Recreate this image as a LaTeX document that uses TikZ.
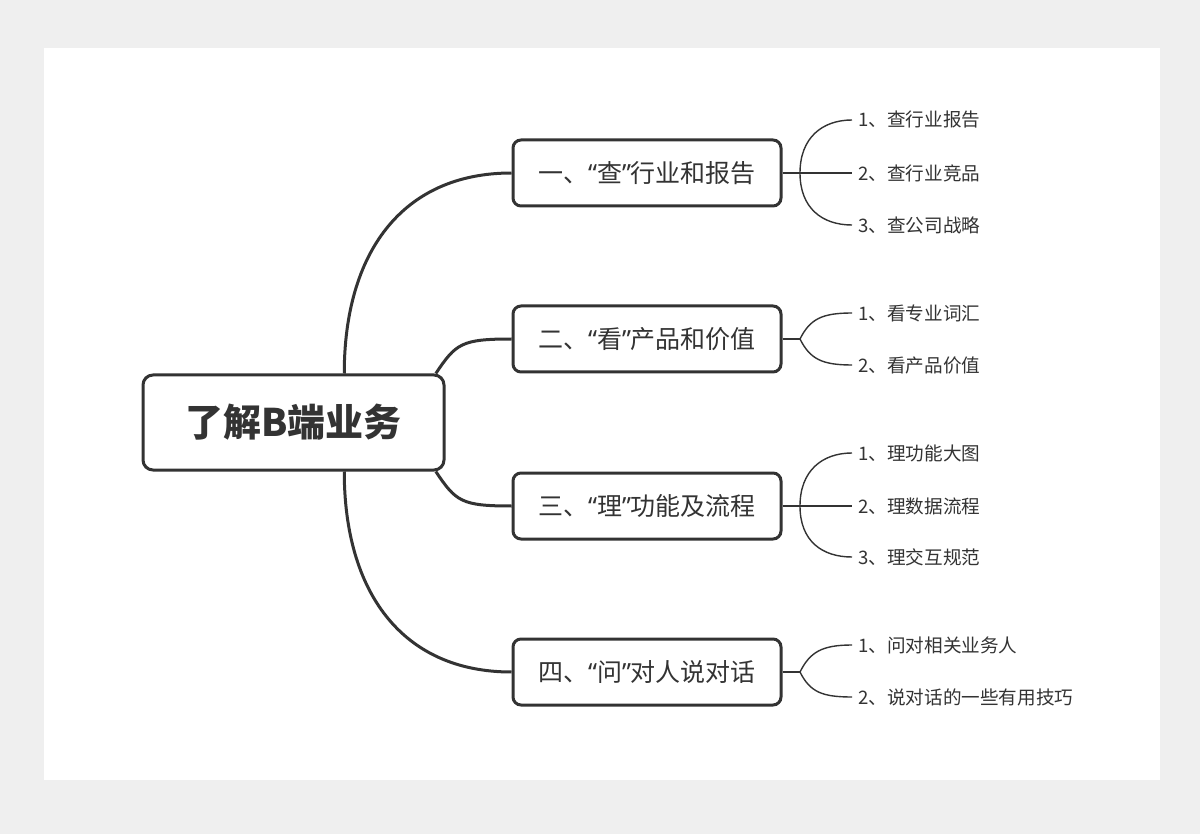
\documentclass[tikz,border=0pt]{standalone}
\usepackage{fontspec}
\setmainfont{Noto Sans CJK SC}
\newfontfamily\quotefont{Noto Sans}
\usetikzlibrary{positioning,calc}

\definecolor{bggray}{HTML}{EFEFEF}
\definecolor{inkgray}{HTML}{333333}

% quoted word with narrow Latin quotes
\newcommand{\qword}[1]{{\quotefont “}#1{\quotefont ”}}

\tikzset{
  rootbox/.style={draw=inkgray, line width=1.5pt, rounded corners=5pt, fill=white,
    minimum width=150.5pt, minimum height=47.5pt, font=\fontsize{19}{22}\selectfont\bfseries, text=inkgray},
  topicbox/.style={draw=inkgray, line width=1.5pt, rounded corners=4pt, fill=white,
    minimum width=134pt, minimum height=33pt, font=\fontsize{12.5}{15}\selectfont, text=inkgray},
  leaf/.style={anchor=west, inner sep=3pt, font=\fontsize{9.3}{11}\selectfont, text=inkgray},
  mainlink/.style={draw=inkgray, line width=1.5pt},
  leaflink/.style={draw=inkgray, line width=0.7pt}
}

\begin{document}
\begin{tikzpicture}[x=0.5pt, y=-0.5pt]
    % background and white sheet
    \fill[bggray] (0,0) rectangle (1200,834);
    \fill[white] (44,48) rectangle (1160,780);
    \useasboundingbox (0,0) rectangle (1200,834);

    % root topic
    \node[rootbox] (root) at (293.5,422.5) {了解B端业务};

    % main topics
    \node[topicbox] (cha) at (647,173) {一、\qword{查}行业和报告};
    \node[topicbox] (kan) at (647,339) {二、\qword{看}产品和价值};
    \node[topicbox] (li)  at (647,506) {三、\qword{理}功能及流程};
    \node[topicbox] (wen) at (647,672) {四、\qword{问}对人说对话};

    % root to topics
    \draw[mainlink] (root.44) .. controls +(0,-120) and +(-110,0) .. (cha.west);
    \draw[mainlink] (root.19) .. controls +(20,-30) and +(-50,0) .. (kan.west);
    \draw[mainlink] (root.-19) .. controls +(20,30) and +(-50,0) .. (li.west);
    \draw[mainlink] (root.-44) .. controls +(0,120) and +(-110,0) .. (wen.west);

    % junctions
    \coordinate (jcha) at (800,173);
    \coordinate (jkan) at (800,339);
    \coordinate (jli)  at (800,506);
    \coordinate (jwen) at (800,672);

    % leaves: cha
    \node[leaf] (cha1) at (852,120) {1、查行业报告};
    \node[leaf] (cha2) at (852,173) {2、查行业竞品};
    \node[leaf] (cha3) at (852,225) {3、查公司战略};
    \draw[leaflink] (cha.east) -- (jcha);
    \draw[leaflink] (jcha) .. controls +(0,-35) and +(-30,0) .. (cha1.west);
    \draw[leaflink] (jcha) -- (cha2.west);
    \draw[leaflink] (jcha) .. controls +(0,35) and +(-30,0) .. (cha3.west);

    % leaves: kan
    \node[leaf] (kan1) at (852,313) {1、看专业词汇};
    \node[leaf] (kan2) at (852,365) {2、看产品价值};
    \draw[leaflink] (kan.east) -- (jkan);
    \draw[leaflink] (jkan) .. controls +(10,-20) and +(-30,0) .. (kan1.west);
    \draw[leaflink] (jkan) .. controls +(10,20) and +(-30,0) .. (kan2.west);

    % leaves: li
    \node[leaf] (li1) at (852,453) {1、理功能大图};
    \node[leaf] (li2) at (852,506) {2、理数据流程};
    \node[leaf] (li3) at (852,557) {3、理交互规范};
    \draw[leaflink] (li.east) -- (jli);
    \draw[leaflink] (jli) .. controls +(0,-35) and +(-30,0) .. (li1.west);
    \draw[leaflink] (jli) -- (li2.west);
    \draw[leaflink] (jli) .. controls +(0,35) and +(-30,0) .. (li3.west);

    % leaves: wen
    \node[leaf] (wen1) at (852,645) {1、问对相关业务人};
    \node[leaf] (wen2) at (852,697) {2、说对话的一些有用技巧};
    \draw[leaflink] (wen.east) -- (jwen);
    \draw[leaflink] (jwen) .. controls +(10,-20) and +(-30,0) .. (wen1.west);
    \draw[leaflink] (jwen) .. controls +(10,20) and +(-30,0) .. (wen2.west);
\end{tikzpicture}
\end{document}
